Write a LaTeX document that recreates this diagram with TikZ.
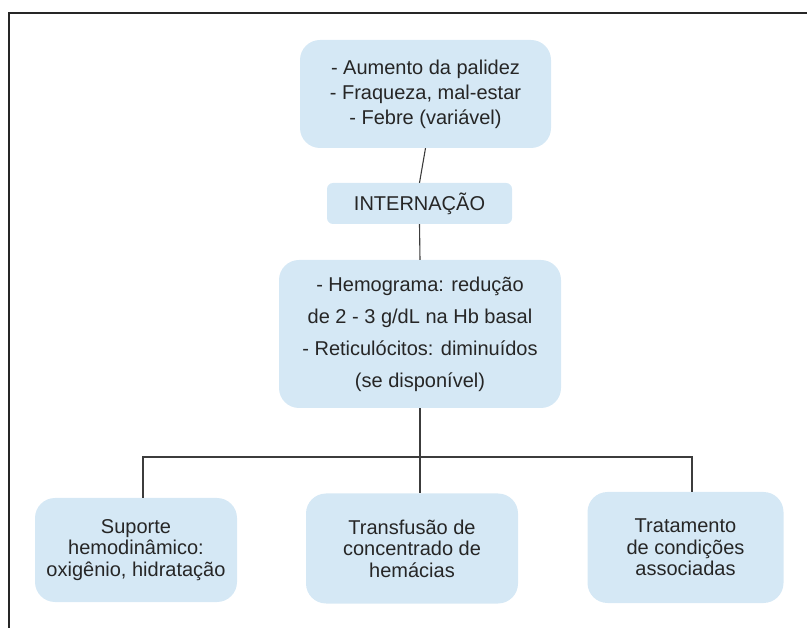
\documentclass[tikz,border=0pt]{standalone}
\usepackage{fontspec}
\setmainfont{Liberation Sans}
\usepackage{tikz}
\usetikzlibrary{calc}
\definecolor{boxblue}{RGB}{213,232,245}
\definecolor{linegray}{RGB}{60,60,60}
\tikzstyle{block} = [rectangle, fill=boxblue, rounded corners=20pt,
    align=center, text=black!85, inner sep=0pt]
\tikzstyle{line} = [draw=linegray, line width=1.1pt]

\begin{document}
\begin{tikzpicture}[x=1pt, y=-1pt,
    tightText/.style={font=\fontsize{20}{21.5}\selectfont},
    topText/.style={font=\fontsize{20}{25}\selectfont},
    wideText/.style={font=\fontsize{20}{32}\selectfont}
    ]
    \useasboundingbox (0,0) rectangle (807,628);

    % frame
    \draw[line width=2pt, black!85] (9,628) -- (9,13) -- (807,13);

    \node[block, topText, minimum width=251pt, minimum height=108pt] (sintomas) at (425.5,94)
        {- Aumento da palidez\\- Fraqueza, mal-estar\\- Febre (variável)};
    \node[block, topText, rounded corners=6pt, minimum width=185pt, minimum height=41pt] (internacao) at (419.5,203.5)
        {INTERNAÇÃO};
    \node[block, wideText, minimum width=282pt, minimum height=148pt] (exames) at (420,334)
        {- Hemograma: redução\\de 2 - 3 g/dL na Hb basal\\- Reticulócitos: diminuídos\\(se disponível)};

    \node[block, tightText, minimum width=202pt, minimum height=104pt] (suporte) at (136,550)
        {Suporte\\hemodinâmico:\\oxigênio, hidratação};
    \node[block, tightText, minimum width=212pt, minimum height=110pt] (transfusao) at (412,548.5)
        {Transfusão de\\concentrado de\\hemácias};
    \node[block, tightText, minimum width=196pt, minimum height=111pt] (tratamento) at (685.5,547.5)
        {Tratamento\\de condições\\associadas};

    \coordinate (split) at (exames.south |- 0,457);
    \coordinate (leftEnd) at (143,457);
    \coordinate (rightEnd) at (692,457);

    \draw[line] (sintomas.south) -- (internacao.north);
    \draw[line] (internacao.south) -- (exames.north);
    \draw[line] (exames.south) -- (exames.south |- transfusao.north);
    \draw[line] (leftEnd |- suporte.north) -- (leftEnd) -- (rightEnd) -- (rightEnd |- tratamento.north);
\end{tikzpicture}
\end{document}
